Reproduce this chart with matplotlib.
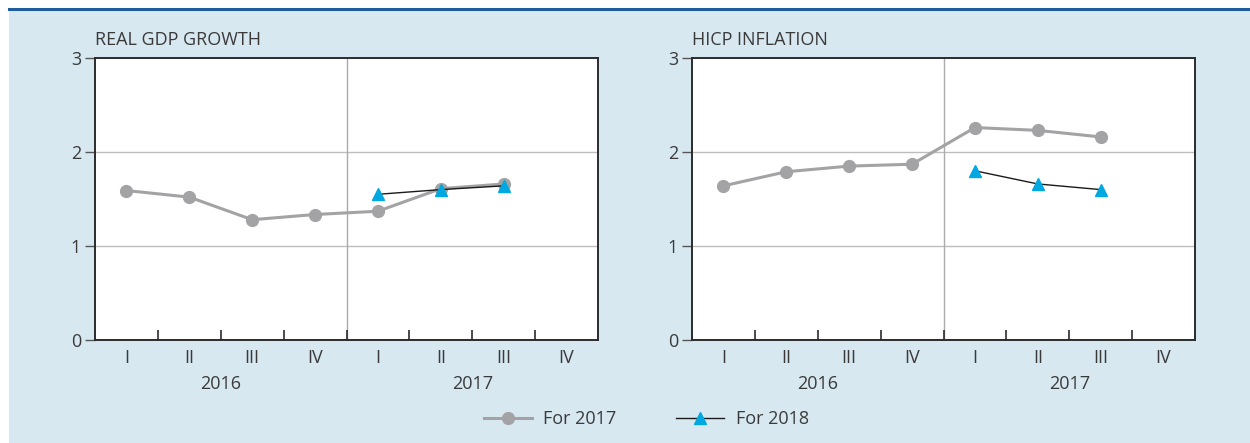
import matplotlib.pyplot as plt
from matplotlib.patches import Rectangle
from matplotlib.lines import Line2D

# data
quarters = ["I", "II", "III", "IV", "I", "II", "III", "IV"]
years = ["2016", "2017"]
gdp_2017 = [1.59, 1.52, 1.28, 1.335, 1.37, 1.61, 1.66]
gdp_2018 = [1.55, 1.60, 1.64]
hicp_2017 = [1.64, 1.79, 1.85, 1.87, 2.26, 2.23, 2.16]
hicp_2018 = [1.80, 1.66, 1.60]
titles = ["REAL GDP GROWTH", "HICP INFLATION"]

BG = "#d8e8f1"
GREY = "#a3a3a6"
CYAN = "#00a8e2"
TXT = "#3a3a3a"
FS = 13

plt.rcParams['font.family'] = ['Open Sans', 'DejaVu Sans']

fig = plt.figure(figsize=(12.5, 4.43), dpi=100)
fig.patch.set_facecolor("white")
fig.add_artist(Rectangle((9 / 1250, 0), 1 - 9 / 1250, 1 - 9 / 443,
                         transform=fig.transFigure, facecolor=BG, edgecolor="none", zorder=0))
fig.add_artist(Line2D([9 / 1250, 1], [1 - 9 / 443, 1 - 9 / 443],
                      transform=fig.transFigure, color="#1f5c9e", lw=2.2))

x17 = [i + 0.5 for i in range(len(gdp_2017))]
x18 = [i + 4.5 for i in range(len(gdp_2018))]

panels = [(gdp_2017, gdp_2018), (hicp_2017, hicp_2018)]
lefts = [95 / 1250, 692 / 1250]

for k, (s17, s18) in enumerate(panels):
    ax = fig.add_axes([lefts[k], 1 - 340 / 443, 503 / 1250, 282 / 443])
    ax.set_facecolor("white")
    ax.set_xlim(0, 8)
    ax.set_ylim(0, 3)

    for y in [1, 2]:
        ax.axhline(y, color="#bdbdbd", lw=1, zorder=1)
    ax.axvline(4, color="#ababab", lw=1, zorder=1)

    ax.plot(x17, s17, color=GREY, lw=2.2, marker="o", ms=8.5, mfc=GREY, mec=GREY,
            zorder=3, label="For 2017")
    ax.plot(x18, s18, color="#1a1a1a", lw=1, marker="^", ms=8.5, mfc=CYAN, mec=CYAN,
            zorder=4, label="For 2018")

    for sp in ax.spines.values():
        sp.set_color("#2b2b2b")
        sp.set_linewidth(1.4)

    ax.set_yticks([0, 1, 2, 3])
    ax.tick_params(axis="y", direction="out", length=7, width=1, color="#555555",
                   labelsize=FS, labelcolor=TXT, pad=3)

    ax.set_xticks(range(1, 8))
    ax.set_xticklabels([])
    ax.tick_params(axis="x", direction="in", length=7, width=1.2, color="#2b2b2b")

    for i, q in enumerate(quarters):
        ax.text(i + 0.5, -0.19, q, ha="center", va="center", fontsize=FS,
                color=TXT, clip_on=False)
    for j, yr in enumerate(years):
        ax.text(2 + 4 * j, -0.47, yr, ha="center", va="center", fontsize=FS,
                color=TXT, clip_on=False)

    ax.text(0, 3.19, titles[k], ha="left", va="center", fontsize=FS, color=TXT,
            transform=ax.transData)

handles, labels = ax.get_legend_handles_labels()
leg = fig.legend(handles, labels, loc="center", bbox_to_anchor=(0.517, 1 - 419 / 443),
                 ncol=2, frameon=False, fontsize=FS, handlelength=2.65,
                 columnspacing=3.3, handletextpad=0.65)
for t in leg.get_texts():
    t.set_color(TXT)

fig.savefig("out.png", dpi=100, facecolor=fig.get_facecolor())
